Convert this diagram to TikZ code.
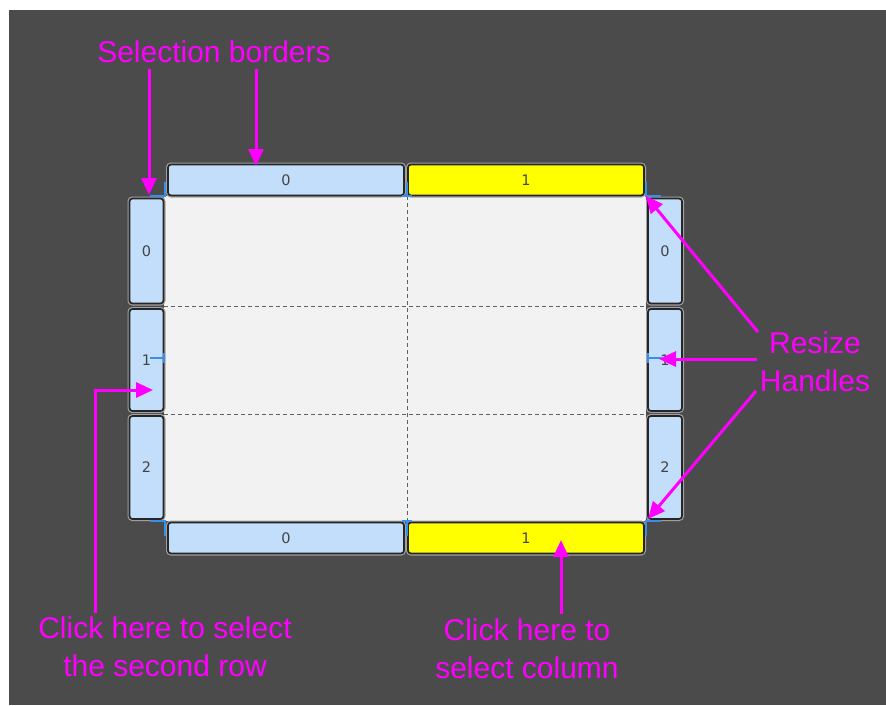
\documentclass[tikz,border=0pt]{standalone}
\usepackage{fontspec}
\setmainfont{Liberation Sans}
\newfontfamily\digitfont{DejaVu Sans}
\usetikzlibrary{arrows.meta}
\definecolor{bgdark}{HTML}{4B4B4B}
\definecolor{hblue}{HTML}{C2DEFA}
\definecolor{hyellow}{HTML}{FFFF00}
\definecolor{cellgray}{HTML}{F2F2F2}
\definecolor{mag}{HTML}{FF00FF}
\definecolor{selblue}{HTML}{3A8EEA}
\definecolor{hdrline}{HTML}{262626}
\definecolor{hdrglow}{HTML}{A0A0A0}
\definecolor{digit}{HTML}{444444}
\tikzset{
  x=1pt, y=-1pt,
  hdr/.style={draw=hdrline, line width=1.7pt, fill=hblue, rounded corners=3pt,
    preaction={draw=hdrglow, line width=4pt},
    inner sep=0pt, text=digit, font=\digitfont\fontsize{14.5}{16}\selectfont},
  colhdr/.style={hdr, minimum width=#1, minimum height=31pt},
  rowhdr/.style={hdr, minimum width=34pt, minimum height=#1},
  lbl/.style={text=mag, align=center, font=\fontsize{30}{38}\selectfont, inner sep=0pt},
  marrow/.style={draw=mag, line width=3pt, -{Triangle[length=17pt,width=15pt]}},
  selb/.style={draw=selblue, line width=1.6pt},
  grid/.style={draw=gray!75!black, line width=1pt, dash pattern=on 4pt off 3pt},
}
\begin{document}
\begin{tikzpicture}
\useasboundingbox (0,0) rectangle (886,705);
\fill[white] (0,0) rectangle (886,705);
\fill[bgdark] (9,10) rectangle (886,705);

% cell area
\node[fill=cellgray, minimum width=482pt, minimum height=325pt, inner sep=0pt] (cells) at (405,358.5) {};
\draw[grid] (164,306) -- (646,306);
\draw[grid] (164,414) -- (646,414);
\draw[grid] (407,196) -- (407,521);

% column headers top
\node[colhdr=236pt] (ct0) at (286,180) {0};
\node[colhdr=236pt, fill=hyellow] (ct1) at (526,180) {1};
% column headers bottom
\node[colhdr=236pt] (cb0) at (286,538) {0};
\node[colhdr=236pt, fill=hyellow] (cb1) at (526,538) {1};
% row headers left
\node[rowhdr=105pt] (rl0) at (146.5,251) {0};
\node[rowhdr=102pt] (rl1) at (146.5,360) {1};
\node[rowhdr=103pt] (rl2) at (146.5,467.5) {2};
% row headers right
\node[rowhdr=105pt] (rr0) at (665,251) {0};
\node[rowhdr=102pt] (rr1) at (665,360) {1};
\node[rowhdr=103pt] (rr2) at (665,467.5) {2};

% selection borders / resize handles (blue)
\draw[selb] (165,182) -- (165,196) -- (150,196);
\draw[selb] (407,182) -- (407,196) (402,196) -- (412,196);
\draw[selb] (646,182) -- (646,196) -- (661,196);
\draw[selb] (150,521) -- (165,521) -- (165,536);
\draw[selb] (407,521) -- (407,536) (402,521) -- (412,521);
\draw[selb] (646,536) -- (646,521) -- (661,521);
\draw[selb] (150,358) -- (164,358) (164,353) -- (164,363);
\draw[selb] (662,358) -- (648,358) (648,353) -- (648,363);

% annotation labels
\node[lbl] (sel) at (214,52) {Selection borders};
\node[lbl] (rh) at (815,362) {Resize\\Handles};
\node[lbl] (crow) at (165,647) {Click here to select\\the second row};
\node[lbl] (ccol) at (527,649) {Click here to\\select column};

% arrow end points
\coordinate (s1) at (149,69);
\coordinate (t1) at (149,195);
\coordinate (s2) at (256,69);
\coordinate (t2) at (256,166);
\coordinate (s3) at (758,332);
\coordinate (t3) at (646,196);
\coordinate (s4) at (757,359);
\coordinate (t4) at (659,359);
\coordinate (s5) at (756,391);
\coordinate (t5) at (648,519);
\coordinate (s6) at (95,613);
\coordinate (t6) at (153,390);
\coordinate (s7) at (561,614);
\coordinate (t7) at (561,540);

\draw[marrow] (s1) -- (t1);
\draw[marrow] (s2) -- (t2);
\draw[marrow] (s3) -- (t3);
\draw[marrow] (s4) -- (t4);
\draw[marrow] (s5) -- (t5);
\draw[marrow] (s6) |- (t6);
\draw[marrow] (s7) -- (t7);
\end{tikzpicture}
\end{document}
